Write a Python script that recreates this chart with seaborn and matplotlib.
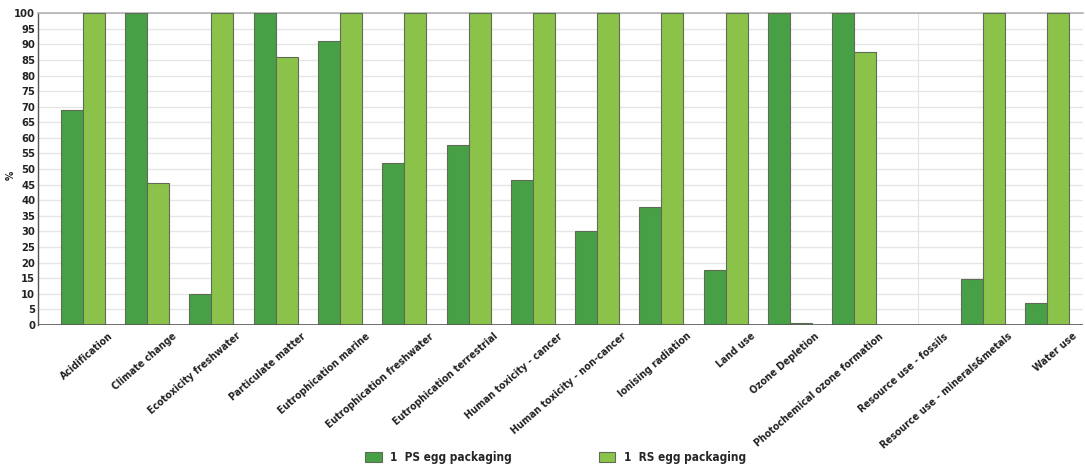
import matplotlib
matplotlib.use("Agg")
import matplotlib.pyplot as plt
import matplotlib.transforms as mtransforms
import pandas as pd
import seaborn as sns

categories = [
    "Acidification", "Climate change", "Ecotoxicity freshwater", "Particulate matter",
    "Eutrophication marine", "Eutrophication freshwater", "Eutrophication terrestrial",
    "Human toxicity - cancer", "Human toxicity - non-cancer", "Ionising radiation",
    "Land use", "Ozone Depletion", "Photochemical ozone formation",
    "Resource use - fossils", "Resource use - minerals&metals", "Water use",
]
ps_values = [69, 100, 10, 100, 91, 52, 57.7, 46.5, 30, 38, 17.6, 100, 100, 0, 14.8, 6.9]
rs_values = [100, 45.4, 100, 85.8, 100, 100, 100, 100, 100, 100, 100, 0.8, 87.4, 0, 100, 100]
series_names = ["1  PS egg packaging", "1  RS egg packaging"]
series_colors = ["#47a046", "#8bc34a"]
y_ticks = list(range(0, 101, 5))

df = pd.DataFrame({
    "category": categories * 2,
    "value": ps_values + rs_values,
    "series": [series_names[0]] * len(categories) + [series_names[1]] * len(categories),
})

sns.set_theme(style="white")
plt.rcParams["font.family"] = ["DejaVu Sans Condensed", "DejaVu Sans"]
plt.rcParams["font.stretch"] = "condensed"
plt.rcParams["font.weight"] = "bold"

fig = plt.figure(figsize=(10.85, 4.69), dpi=100)
ax = fig.add_axes([0.035, 0.307, 0.963, 0.665])

sns.barplot(
    data=df, x="category", y="value", hue="series", order=categories,
    hue_order=series_names, palette=series_colors, saturation=1, width=0.685, gap=0,
    edgecolor="#5e6b55", linewidth=0.8, ax=ax, legend=True, zorder=3,
)

ax.set_ylim(0, 100)
ax.set_xlim(-0.70, 15.56)
ax.set_yticks(y_ticks)
ax.set_yticklabels([str(t) for t in y_ticks], fontsize=8, fontweight="bold", color="#222222")
ax.yaxis.grid(True, color="#e6e6e6", linewidth=1.0, zorder=0)
ax.axvline(13, color="#e2e2e2", linewidth=0.8, zorder=0)
ax.set_axisbelow(True)

for side in ["right", "bottom"]:
    ax.spines[side].set_visible(False)
ax.spines["top"].set_color("#b5b5b5")
ax.spines["left"].set_color("#555555")
ax.spines["left"].set_linewidth(1.0)
ax.axhline(0, color="#555555", linewidth=1.2, zorder=4)

ax.set_ylabel("%", fontsize=7.5, fontweight="bold", color="#222222")
ax.yaxis.set_label_coords(-0.021, 0.48)
ax.set_xlabel("")
ax.tick_params(axis="y", length=0, pad=2)
ax.tick_params(axis="x", length=0, pad=0)

offset = mtransforms.ScaledTranslation(0.25, -0.06, fig.dpi_scale_trans)
ax.set_xticks(range(len(categories)))
ax.set_xticklabels(categories, rotation=41, ha="right", va="top",
                   rotation_mode="anchor", fontsize=7.5, fontweight="bold", color="#222222")
for lbl in ax.get_xticklabels():
    lbl.set_transform(lbl.get_transform() + offset)

handles, labels = ax.get_legend_handles_labels()
ax.legend(handles, labels, loc="center left", bbox_to_anchor=(0.313, -0.426),
          ncol=2, frameon=False, handlelength=1.4, handleheight=0.9,
          columnspacing=7.4, handletextpad=0.7, borderpad=0, borderaxespad=0,
          prop={"weight": "bold", "size": 8.5, "stretch": "condensed"})

fig.savefig("out.png", dpi=100, facecolor="white")
